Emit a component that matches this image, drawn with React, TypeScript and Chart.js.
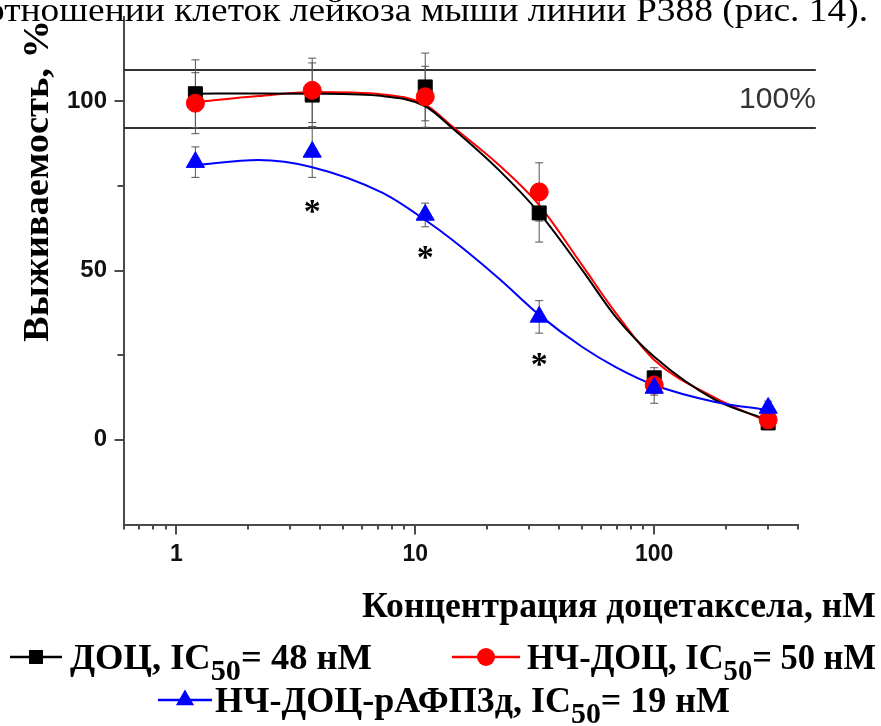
import React, { useEffect, useRef } from 'react';
import { Chart, registerables } from 'chart.js';

Chart.register(...registerables);

// ---- data ----
const concentrations = [1.2, 3.7, 11, 33, 100, 300];
const docMean = [102.2, 101.8, 104.2, 67, 18.3, 5];
const docErr = [10, 9.5, 10, 8.6, 3, 2];
const ncDocMean = [99.4, 103.2, 101.3, 73.2, 16.2, 5.9];
const ncDocErr = [9, 9.5, 9, 8.6, 3, 2];
const afpMean = [82, 85, 66.4, 36.3, 15.3, 9.4];
const afpErr = [4.5, 7.5, 3.5, 4.8, 4.5, 2];

const fitX = [1.2, 2.2, 3.7, 7.3, 11, 14.3, 22.5, 33, 50, 69, 100, 180, 300];
const docFit = [102.2, 102.3, 102.2, 101.5, 98.5, 92, 79.5, 67, 50.1, 36.3, 24.5, 11.8, 5.9];
const ncDocFit = [99.7, 101.5, 102.7, 102, 99, 92.5, 81, 69.3, 51.5, 37.5, 23.6, 12.4, 5.3];
const afpFit = [81.1, 82.6, 80.5, 72.9, 64.9, 59, 47.5, 36.9, 27.4, 21.5, 16.2, 11.2, 8.8];

const refBand = [92.1, 109.2];
const refLineX = [0.6, 475];
const refLabel = '100%';

const asteriskX = [3.7, 11, 33];
const asteriskY = [68.8, 55.2, 23.6];

const xMajorTicks = [1, 10, 100];
const xMinorTicks = [0.6, 0.7, 0.8, 0.9, 2, 3, 4, 5, 6, 7, 8, 9, 20, 30, 40, 50, 60, 70, 80, 90, 200, 300, 400];
const yMajorTicks = [0, 50, 100];
const yMinorTicks = [25, 75];

const topText = 'отношении клеток лейкоза мыши линии Р388 (рис. 14).';
const yTitle = 'Выживаемость, %';
const xTitle = 'Концентрация доцетаксела, нМ';
const seriesNames = ['ДОЦ', 'НЧ-ДОЦ', 'НЧ-ДОЦ-рАФП3д'];
const ic50 = ['48', '50', '19'];

const colors = ['#000000', '#ff0000', '#0000ff'];
const AXIS = '#4a4a4a';
const SERIF = '"Liberation Serif", "Times New Roman", serif';
const SANS = '"Liberation Sans", Arial, sans-serif';

type Run = { t: string; sub?: boolean };

function drawRuns(
  ctx: CanvasRenderingContext2D,
  runs: Run[],
  x: number,
  baseline: number,
  size: number,
  targetWidth: number,
  align: 'left' | 'right',
  weight: string,
  family: string
) {
  const fontFor = (r: Run) => `${weight} ${r.sub ? Math.round(size * 0.82) : size}px ${family}`;
  let natural = 0;
  const widths: number[] = [];
  for (const r of runs) {
    ctx.font = fontFor(r);
    const w = ctx.measureText(r.t).width;
    widths.push(w);
    natural += w;
  }
  const sx = targetWidth > 0 ? targetWidth / natural : 1;
  const startX = align === 'right' ? x - natural * sx : x;
  ctx.save();
  ctx.translate(startX, baseline);
  ctx.scale(sx, 1);
  ctx.textAlign = 'left';
  ctx.textBaseline = 'alphabetic';
  let cx = 0;
  runs.forEach((r, i) => {
    ctx.font = fontFor(r);
    ctx.fillText(r.t, cx, r.sub ? size * 0.3 : 0);
    cx += widths[i];
  });
  ctx.restore();
}

function drawMarker(ctx: CanvasRenderingContext2D, kind: number, x: number, y: number) {
  ctx.save();
  ctx.fillStyle = colors[kind];
  ctx.beginPath();
  if (kind === 0) {
    ctx.rect(x - 7, y - 7, 14, 14);
  } else if (kind === 1) {
    ctx.arc(x, y, 9, 0, Math.PI * 2);
  } else {
    const r = 10.5;
    ctx.moveTo(x, y - r);
    ctx.lineTo(x + r * Math.sin((2 * Math.PI) / 3), y + r * 0.5);
    ctx.lineTo(x - r * Math.sin((2 * Math.PI) / 3), y + r * 0.5);
    ctx.closePath();
  }
  ctx.fill();
  ctx.restore();
}

const decorPlugin = {
  id: 'decor',
  beforeDatasetsDraw(chart: any) {
    const { ctx, scales } = chart;
    const xs = scales.x;
    const ys = scales.y;
    ctx.save();
    ctx.strokeStyle = '#333333';
    ctx.lineWidth = 2;
    refBand.forEach((v) => {
      const py = Math.round(ys.getPixelForValue(v));
      ctx.beginPath();
      ctx.moveTo(xs.getPixelForValue(refLineX[0]), py);
      ctx.lineTo(xs.getPixelForValue(refLineX[1]), py);
      ctx.stroke();
    });
    ctx.strokeStyle = '#555555';
    ctx.lineWidth = 1;
    const groups = [
      [docMean, docErr],
      [ncDocMean, ncDocErr],
      [afpMean, afpErr],
    ];
    groups.forEach(([m, e]) => {
      concentrations.forEach((c, i) => {
        const px = xs.getPixelForValue(c);
        const top = ys.getPixelForValue(m[i] + e[i]);
        const bot = ys.getPixelForValue(m[i] - e[i]);
        ctx.beginPath();
        ctx.moveTo(px, top);
        ctx.lineTo(px, bot);
        ctx.moveTo(px - 4, top);
        ctx.lineTo(px + 4, top);
        ctx.moveTo(px - 4, bot);
        ctx.lineTo(px + 4, bot);
        ctx.stroke();
      });
    });
    ctx.restore();
  },
  afterDraw(chart: any) {
    const { ctx, scales, chartArea } = chart;
    const xs = scales.x;
    const ys = scales.y;
    ctx.save();
    ctx.strokeStyle = AXIS;
    const bottom = chartArea.bottom;
    const left = chartArea.left;
    ctx.lineWidth = 2;
    xMajorTicks.forEach((v) => {
      const px = Math.round(xs.getPixelForValue(v));
      ctx.beginPath();
      ctx.moveTo(px, bottom);
      ctx.lineTo(px, bottom + 10);
      ctx.stroke();
    });
    xMinorTicks.forEach((v) => {
      const px = Math.round(xs.getPixelForValue(v));
      ctx.beginPath();
      ctx.moveTo(px, bottom);
      ctx.lineTo(px, bottom + 5);
      ctx.stroke();
    });
    yMajorTicks.forEach((v) => {
      const py = Math.round(ys.getPixelForValue(v));
      ctx.beginPath();
      ctx.moveTo(left, py);
      ctx.lineTo(left - 9, py);
      ctx.stroke();
    });
    yMinorTicks.forEach((v) => {
      const py = Math.round(ys.getPixelForValue(v));
      ctx.beginPath();
      ctx.moveTo(left, py);
      ctx.lineTo(left - 6, py);
      ctx.stroke();
    });

    ctx.fillStyle = '#333333';
    ctx.font = `30px ${SANS}`;
    ctx.textAlign = 'right';
    ctx.textBaseline = 'middle';
    ctx.fillText(refLabel, xs.getPixelForValue(refLineX[1]), ys.getPixelForValue((refBand[0] + refBand[1]) / 2) + 1);

    ctx.fillStyle = '#000';
    ctx.font = `bold 34px ${SERIF}`;
    ctx.textAlign = 'center';
    ctx.textBaseline = 'alphabetic';
    asteriskX.forEach((c, i) => {
      const m = ctx.measureText('*');
      const px = xs.getPixelForValue(c);
      const py = ys.getPixelForValue(asteriskY[i]);
      const off = (m.actualBoundingBoxAscent - m.actualBoundingBoxDescent) / 2;
      ctx.fillText('*', px, py + off);
    });

    ctx.fillStyle = '#000';
    drawRuns(ctx, [{ t: topText }], 868, 21, 33, 882, 'right', 'normal', SERIF);

    ctx.save();
    ctx.translate(48, 181);
    ctx.rotate(-Math.PI / 2);
    drawRuns(ctx, [{ t: yTitle }], -161, 0, 35, 322, 'left', 'bold', SERIF);
    ctx.restore();

    drawRuns(ctx, [{ t: xTitle }], 876, 617, 35, 514, 'right', 'bold', SERIF);

    const items = [
      { k: 0, lx0: 10, lx1: 62, mx: 36, y: 657, tx: 70, tw: 302 },
      { k: 1, lx0: 452, lx1: 520, mx: 486, y: 657, tx: 527, tw: 349 },
      { k: 2, lx0: 158, lx1: 212, mx: 185, y: 700, tx: 215, tw: 515 },
    ];
    items.forEach((it) => {
      ctx.strokeStyle = colors[it.k];
      ctx.lineWidth = 2.5;
      ctx.beginPath();
      ctx.moveTo(it.lx0, it.y);
      ctx.lineTo(it.lx1, it.y);
      ctx.stroke();
      drawMarker(ctx, it.k, it.mx, it.y);
      ctx.fillStyle = '#000';
      drawRuns(
        ctx,
        [{ t: `${seriesNames[it.k]}, IC` }, { t: '50', sub: true }, { t: `= ${ic50[it.k]} нМ` }],
        it.tx,
        it.y + 12,
        35,
        it.tw,
        'left',
        'bold',
        SERIF
      );
    });
    ctx.restore();
  },
};

export default function App() {
  const ref = useRef<HTMLCanvasElement | null>(null);
  useEffect(() => {
    if (!ref.current) return;
    const pts = (xs: number[], ys: number[]) => xs.map((x, i) => ({ x, y: ys[i] }));
    const chart = new Chart(ref.current, {
      type: 'scatter',
      data: {
        datasets: [
          {
            label: seriesNames[2],
            data: pts(concentrations, afpMean),
            pointStyle: 'triangle',
            pointRadius: 10.5,
            backgroundColor: colors[2],
            borderColor: colors[2],
            borderWidth: 1,
            showLine: false,
          },
          {
            label: seriesNames[1],
            data: pts(concentrations, ncDocMean),
            pointStyle: 'circle',
            pointRadius: 9,
            backgroundColor: colors[1],
            borderColor: colors[1],
            borderWidth: 1,
            showLine: false,
          },
          {
            label: seriesNames[0],
            data: pts(concentrations, docMean),
            pointStyle: 'rect',
            pointRadius: 9.9,
            backgroundColor: colors[0],
            borderColor: colors[0],
            borderWidth: 1,
            showLine: false,
          },
          {
            label: 'fit-afp',
            data: pts(fitX, afpFit),
            showLine: true,
            pointRadius: 0,
            borderColor: colors[2],
            borderWidth: 2,
            cubicInterpolationMode: 'monotone',
          },
          {
            label: 'fit-doc',
            data: pts(fitX, docFit),
            showLine: true,
            pointRadius: 0,
            borderColor: colors[0],
            borderWidth: 2,
            cubicInterpolationMode: 'monotone',
          },
          {
            label: 'fit-ncdoc',
            data: pts(fitX, ncDocFit),
            showLine: true,
            pointRadius: 0,
            borderColor: colors[1],
            borderWidth: 2,
            cubicInterpolationMode: 'monotone',
          },
        ],
      },
      options: {
        animation: false,
        responsive: false,
        devicePixelRatio: 1,
        layout: { padding: { left: 0, right: 83, top: 16.5, bottom: 0 } },
        plugins: { legend: { display: false }, tooltip: { enabled: false } },
        events: [],
        scales: {
          x: {
            type: 'logarithmic',
            position: 'bottom',
            min: 0.6,
            max: 400,
            afterBuildTicks: (s: any) => {
              s.ticks = xMajorTicks.map((v) => ({ value: v }));
            },
            afterFit: (s: any) => {
              s.height = 201.5;
              s.paddingLeft = 0;
              s.paddingRight = 0;
            },
            grid: { display: false, drawTicks: false },
            border: { display: true, color: AXIS, width: 2 },
            ticks: {
              autoSkip: false,
              maxRotation: 0,
              padding: 16,
              color: '#111',
              font: { family: SANS, weight: 'bold', size: 23 },
              callback: (v: any) => String(v),
            },
          },
          y: {
            type: 'linear',
            min: -25,
            max: 125,
            afterBuildTicks: (s: any) => {
              s.ticks = yMajorTicks.map((v) => ({ value: v }));
            },
            afterFit: (s: any) => {
              s.width = 123.5;
              s.paddingTop = 0;
              s.paddingBottom = 0;
            },
            grid: { display: false, drawTicks: false },
            border: { display: true, color: AXIS, width: 2 },
            ticks: {
              padding: 16.5,
              color: '#111',
              font: { family: SANS, weight: 'bold', size: 24 },
              callback: (v: any) => String(v),
            },
          },
        },
      },
      plugins: [decorPlugin],
    } as any);
    return () => chart.destroy();
  }, []);
  return (
    <div style={{ position: 'absolute', left: 0, top: 0, width: 881, height: 726, background: '#fff' }}>
      <canvas ref={ref} width={881} height={726} style={{ display: 'block', width: 881, height: 726 }} />
    </div>
  );
}
